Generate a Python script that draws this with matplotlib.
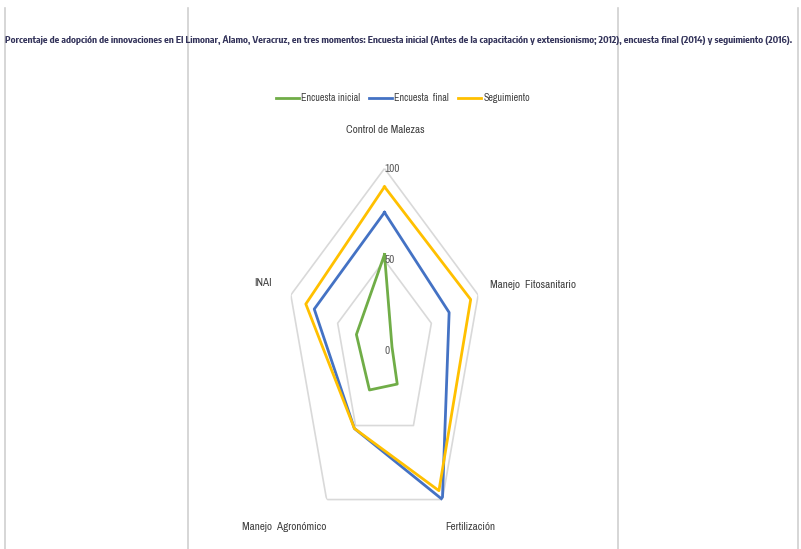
import numpy as np
import matplotlib
matplotlib.use("Agg")
import matplotlib.pyplot as plt

# categorias del radar (sentido horario desde arriba)
categorias = ["Control de Malezas", "Manejo  Fitosanitario", "Fertilización",
              "Manejo  Agronómico", "INAI"]

# valores (%)
encuesta_inicial = [53, 8, 22, 26, 30]
encuesta_final = [76, 69, 100, 52, 75]
seguimiento = [90, 92, 94, 52, 84]

series = ["Encuesta inicial", "Encuesta  final", "Seguimiento"]
colores = ["#70AD47", "#4472C4", "#FFC000"]
niveles = [50, 100]
etiquetas_r = ["0", "50", "100"]

titulo = ("Porcentaje de adopción de innovaciones en El Limonar, Álamo, Veracruz, en tres momentos: "
          "Encuesta inicial (Antes de la capacitación y extensionismo; 2012), encuesta final (2014) y seguimiento (2016).")

# fuente estrecha (come il Calibri schiacciato dell'originale)
plt.rcParams["font.family"] = ["Archivo Narrow", "DejaVu Sans"]

W, H = 801, 549
fig = plt.figure(figsize=(W / 100, H / 100), dpi=100)

# lineas verticales del marco de la pagina
for xp in [5, 188, 618, 798]:
    fig.add_artist(plt.Line2D([xp / W, xp / W], [0, 1 - 8 / H], color="#D0D0D0", lw=1.2))

fig.text(5 / W, 1 - 41 / H, titulo, fontsize=6.9, fontweight="bold",
         family=["Encode Sans Condensed", "DejaVu Sans"],
         color="#33335A", va="center", ha="left")

# ejes polares estirados (el original esta comprimido en horizontal)
cx, cy, rx, ry = 384.5, 351.5, 98.5, 183
ax = fig.add_axes([(cx - rx) / W, (H - cy - ry) / H, 2 * rx / W, 2 * ry / H], projection="polar")
ax.set_theta_offset(np.pi / 2)
ax.set_theta_direction(-1)
ax.set_rlim(0, 100)
ax.set_aspect("auto")
ax.grid(False)
ax.spines["polar"].set_visible(False)
ax.set_xticks([])
ax.set_yticks([])
ax.patch.set_alpha(0)

angulos = np.linspace(0, 2 * np.pi, len(categorias), endpoint=False)
ang_c = np.append(angulos, angulos[0])

for nv in niveles:
    ax.plot(ang_c, [nv] * len(ang_c), color="#D9D9D9", lw=1.2, zorder=1)

lineas = []
for nombre, vals, col in zip(series, [encuesta_inicial, encuesta_final, seguimiento], colores):
    v = np.append(vals, vals[0])
    l, = ax.plot(ang_c, v, color=col, lw=2.0, label=nombre, zorder=3)
    lineas.append(l)

# etiquetas del eje radial
for i, txt in enumerate(etiquetas_r):
    ax.text(0, i * 50, txt, fontsize=8, color="#595959", ha="left", va="center",
            transform=ax.transData, zorder=4)

# etiquetas de categorias
pos_lab = [(385, 130, "center"), (490, 285, "left"), (470, 527, "center"),
           (284, 527, "center"), (263, 283, "center")]
for cat, (px, py, ha) in zip(categorias, pos_lab):
    fig.text(px / W, 1 - py / H, cat, fontsize=8, color="#404040", ha=ha, va="center")

fig.legend(handles=lineas, loc="center", bbox_to_anchor=(403 / W, 1 - 98 / H), ncol=3,
           frameon=False, fontsize=7.2, handlelength=2.3, handletextpad=0.2,
           columnspacing=0.9, labelcolor="#404040")

fig.savefig("out.png", dpi=100, facecolor="white")
